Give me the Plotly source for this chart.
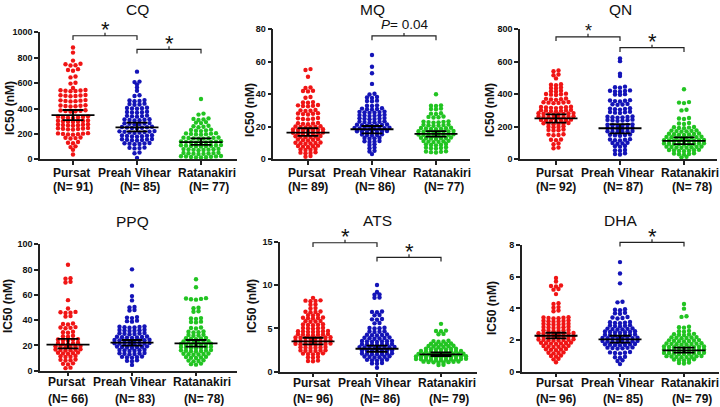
import plotly.graph_objects as go

W, H = 720, 407
FONT = "Liberation Sans, Arial, sans-serif"
COLORS = ["#f01515", "#1414b8", "#22c422"]
SITES = ["Pursat", "Preah Vihear", "Ratanakiri"]

# ---------------- data (IC50, nM) ----------------
cq_pursat = [880, 840, 777, 752, 749, 741, 738, 710, 703, 697, 652, 645, 603, 596, 562,
             546, 544, 542, 540, 538, 536, 506, 504, 502, 500, 498, 496,
             466, 464, 462, 460, 458, 456, 426, 424, 422, 420, 418, 416,
             386, 384, 382, 380, 378, 376, 338, 336, 334, 332, 330, 328, 326,
             306, 304, 302, 300, 298, 296, 294, 276, 274, 272, 270, 268, 266, 264,
             246, 244, 242, 240, 238, 236, 234, 206, 204, 202, 200, 198, 196, 194,
             172, 170, 167, 164, 136, 130, 126, 102, 96, 75, 38]
cq_preah = [690, 612, 608, 590, 565, 540, 504, 498, 466, 463, 460, 457, 438, 435, 432, 429,
            406, 404, 402, 400, 398, 374, 372, 370, 368, 366, 344, 342, 340, 338, 336,
            315, 313, 311, 309, 307, 305, 285, 283, 281, 279, 277, 275,
            256, 254, 252, 250, 248, 246, 244, 222, 220, 218, 216, 214, 212, 210, 208,
            190, 188, 186, 184, 182, 180, 178, 160, 158, 156, 154, 152, 150, 148,
            128, 126, 124, 122, 120, 118, 92, 90, 88, 86, 54, 48, 10]
cq_ratanakiri = [475, 360, 352, 322, 318, 314, 310, 293, 289, 285, 264, 260, 256, 252,
                 234, 231, 228, 225, 222, 206, 204, 202, 200, 198, 196, 194,
                 172, 170.5, 169, 167.5, 166, 164.5, 163, 161.5,
                 142, 140.5, 139, 137.5, 136, 134.5, 133, 131.5, 130,
                 112, 110.5, 109, 107.5, 106, 104.5, 103, 101.5, 100,
                 82, 80.5, 79, 77.5, 76, 74.5, 73, 71.5,
                 52, 50.5, 49, 47.5, 46, 44.5, 43, 41.5,
                 26, 24.5, 23, 21.5, 20, 18.5, 17, 15.5, 14]

mq_pursat = [55.5, 55.0, 50.8, 44.2, 43.9, 42.2, 42.0, 41.8, 38.3, 37.9, 35.2, 35.0, 34.8,
             33.4, 33.2, 33.0, 32.8, 32.6, 30.3, 30.1, 29.9, 29.7,
             28.4, 28.2, 28.0, 27.8, 27.6, 25.4, 25.2, 25.0, 24.8, 24.6,
             22.4, 22.2, 22.0, 21.8, 21.6, 20.35, 20.2, 20.05, 19.9, 19.75, 19.6,
             18.45, 18.3, 18.15, 18.0, 17.85, 17.7, 17.55,
             16.45, 16.3, 16.15, 16.0, 15.85, 15.7, 15.55,
             14.35, 14.2, 14.05, 13.9, 13.75, 13.6, 12.4, 12.2, 12.0, 11.8, 11.6,
             10.35, 10.2, 10.05, 9.9, 9.75, 9.6, 8.4, 8.2, 8.0, 7.8, 7.6,
             6.3, 6.1, 5.9, 5.7, 4.3, 4.1, 3.9, 3.7, 2.0, 1.6]
mq_preah = [64.2, 57.0, 53.0, 46.4, 40.3, 39.9, 38.3, 38.0, 37.8, 36.1, 35.9, 35.7, 33.2, 33.0, 32.8,
            31.4, 31.2, 31.0, 30.8, 30.6, 29.35, 29.2, 29.05, 28.9, 28.75, 28.6,
            27.35, 27.2, 27.05, 26.9, 26.75, 26.6, 25.35, 25.2, 25.05, 24.9, 24.75, 24.6,
            23.35, 23.2, 23.05, 22.9, 22.75, 22.6, 21.45, 21.3, 21.15, 21.0, 20.85, 20.7, 20.55,
            19.39, 19.27, 19.15, 19.03, 18.91, 18.79, 18.67, 18.55,
            17.45, 17.3, 17.15, 17.0, 16.85, 16.7, 16.55, 15.4, 15.2, 15.0, 14.8, 14.6,
            13.3, 13.1, 12.9, 12.7, 11.3, 11.1, 10.9, 10.7,
            9.2, 8.8, 7.2, 6.8, 5.2, 4.8, 3.2]
mq_ratanakiri = [40.0, 33.2, 33.0, 32.8, 31.2, 31.0, 30.8, 28.3, 28.1, 27.9, 26.3, 26.1, 25.9, 25.7,
                 23.35, 23.2, 23.05, 22.9, 22.75, 22.6, 21.35, 21.2, 21.05, 20.9, 20.75, 20.6,
                 19.45, 19.3, 19.15, 19.0, 18.85, 18.7, 18.55,
                 17.39, 17.27, 17.15, 17.03, 16.91, 16.79, 16.67, 16.55,
                 15.39, 15.27, 15.15, 15.03, 14.91, 14.79, 14.67, 14.55,
                 13.45, 13.3, 13.15, 13.0, 12.85, 12.7, 12.55,
                 11.35, 11.2, 11.05, 10.9, 10.75, 10.6, 9.4, 9.2, 9.0, 8.8, 8.6,
                 7.4, 7.2, 7.0, 6.8, 6.6, 5.0, 4.8, 4.6, 4.4, 4.2]

qn_pursat = [546, 542, 522, 517, 498, 462, 459, 456, 442, 439, 436, 422, 419, 416,
             404, 402, 400, 398, 396, 374, 372, 370, 368, 366,
             353, 351.5, 350, 348.5, 347, 345.5, 324, 322.5, 321, 319.5, 318, 316.5, 315,
             304, 302.5, 301, 299.5, 298, 296.5, 295,
             284.2, 283, 281.8, 280.6, 279.4, 278.2, 277, 275.8,
             264.2, 263, 261.8, 260.6, 259.4, 258.2, 257, 255.8,
             244, 242.5, 241, 239.5, 238, 236.5, 235, 223, 221.5, 220, 218.5, 217, 215.5,
             203, 201, 199, 197, 183, 181, 179, 177, 154, 152, 150, 148,
             122, 120, 118, 97, 93, 72, 68]
qn_preah = [621, 604, 527, 512, 447, 444, 441, 424, 422, 420, 418, 416, 401, 399, 397,
            364, 362, 360, 358, 356, 341, 339, 337, 335,
            314, 312, 310, 308, 306, 293, 291, 289, 287, 285,
            264, 262.5, 261, 259.5, 258, 256.5, 244, 242.5, 241, 239.5, 238, 236.5,
            214, 212.5, 211, 209.5, 208, 206.5, 194, 192.5, 191, 189.5, 188, 186.5,
            174, 172.5, 171, 169.5, 168, 166.5, 153, 151, 149, 147, 145,
            124, 122, 120, 118, 116, 102, 100, 98, 96, 82, 80, 78, 57, 55, 53, 37, 33, 30]
qn_ratanakiri = [431, 352, 349, 346, 305, 301, 254, 251, 248, 223, 220, 217,
                 199, 197, 195, 193, 191, 178, 176.5, 175, 173.5, 172, 170.5,
                 159, 157.5, 156, 154.5, 153, 151.5, 150,
                 139, 137.8, 136.6, 135.4, 134.2, 133, 131.8, 130.6,
                 119, 118, 117, 116, 115, 114, 113, 112, 111,
                 99, 98, 97, 96, 95, 94, 93, 92, 91,
                 79, 77.8, 76.6, 75.4, 74.2, 73, 71.8, 70.6,
                 59, 57.5, 56, 54.5, 53, 51.5, 50, 37, 35, 33, 31, 29, 15, 12]

ppq_pursat = [83.8, 73.2, 72.8, 69.8, 70.3, 55.8, 49.2, 45.6, 45.9, 46.2, 46.5, 42.8, 43.2,
              36.5, 36.9, 37.3, 33.6, 33.9, 34.2, 34.5, 30.0, 30.4, 30.8, 26.8, 27.2, 27.6,
              23.8, 24.1, 24.4, 24.7, 25.0, 21.0, 21.3, 21.6, 21.9, 22.2,
              18.6, 18.8, 19.0, 19.2, 19.4, 19.6, 16.0, 16.2, 16.4, 16.6, 16.8, 17.0,
              13.4, 13.65, 13.9, 14.15, 14.4, 10.8, 11.1, 11.4, 11.7,
              8.0, 8.3, 8.6, 8.9, 5.0, 5.4, 5.8, 2.0, 2.4]
ppq_preah = [80.2, 67.3, 59.0, 55.6, 50.0, 50.4, 47.6, 48.0, 41.6, 42.0, 42.4, 38.8, 39.2, 39.6,
             34.0, 34.2, 34.4, 34.6, 34.8, 35.0, 31.4, 31.6, 31.8, 32.0, 32.2, 32.4,
             28.8, 29.0, 29.2, 29.4, 29.6, 29.8, 26.0, 26.18, 26.36, 26.54, 26.72, 26.9, 27.08,
             23.4, 23.55, 23.7, 23.85, 24.0, 24.15, 24.3, 24.45,
             20.8, 20.95, 21.1, 21.25, 21.4, 21.55, 21.7, 21.85,
             18.2, 18.38, 18.56, 18.74, 18.92, 19.1, 19.28,
             15.6, 15.8, 16.0, 16.2, 16.4, 16.6, 13.0, 13.2, 13.4, 13.6, 13.8, 14.0,
             10.2, 10.45, 10.7, 10.95, 11.2, 7.4, 7.8, 8.2, 4.6]
ppq_ratanakiri = [72.3, 66.0, 56.2, 56.5, 56.8, 57.1, 57.4, 49.4, 49.8, 46.6, 47.0,
                  41.0, 41.3, 41.6, 38.2, 38.5, 38.8, 33.4, 33.8, 34.2,
                  30.2, 30.5, 30.8, 31.1, 27.6, 27.9, 28.2, 28.5, 25.0, 25.25, 25.5, 25.75, 26.0,
                  22.4, 22.6, 22.8, 23.0, 23.2, 23.4, 20.2, 20.38, 20.56, 20.74, 20.92, 21.1, 21.28,
                  17.8, 17.98, 18.16, 18.34, 18.52, 18.7, 18.88,
                  15.2, 15.38, 15.56, 15.74, 15.92, 16.1, 16.28,
                  12.6, 12.8, 13.0, 13.2, 13.4, 13.6, 10.0, 10.25, 10.5, 10.75, 11.0,
                  7.4, 7.7, 8.0, 8.3, 4.8, 5.2, 5.6]

ats_pursat = [8.52, 8.14, 8.17, 8.2, 8.23, 7.72, 7.76, 7.3, 7.34, 6.86, 6.89, 6.92, 6.95,
              6.5, 6.53, 6.56, 6.14, 6.17, 6.2, 6.23, 6.26, 5.76, 5.79, 5.82, 5.85,
              5.36, 5.39, 5.42, 5.45, 5.48, 4.96, 4.99, 5.02, 5.05, 5.08,
              4.58, 4.6, 4.62, 4.64, 4.66, 4.68, 4.7, 4.22, 4.24, 4.26, 4.28, 4.3, 4.32, 4.34,
              3.84, 3.86, 3.88, 3.9, 3.92, 3.94, 3.96, 3.98,
              3.46, 3.48, 3.5, 3.52, 3.54, 3.56, 3.58, 3.6,
              3.1, 3.12, 3.14, 3.16, 3.18, 3.2, 3.22, 3.24,
              2.74, 2.76, 2.78, 2.8, 2.82, 2.84, 2.38, 2.4, 2.42, 2.44, 2.46, 2.48,
              2.0, 2.03, 2.06, 2.09, 2.12, 1.62, 1.66, 1.7, 1.2, 1.24, 1.28]
ats_preah = [10.0, 9.2, 8.88, 8.92, 8.52, 8.56, 6.86, 6.9, 6.94, 6.5, 6.54, 6.0, 6.04, 6.08, 5.58, 5.62,
             4.98, 5.01, 5.04, 5.07, 4.58, 4.61, 4.64, 4.67, 4.18, 4.21, 4.24, 4.27, 4.3,
             3.8, 3.83, 3.86, 3.89, 3.92, 3.95, 3.44, 3.46, 3.48, 3.5, 3.52, 3.54, 3.56,
             3.08, 3.1, 3.12, 3.14, 3.16, 3.18, 3.2, 2.72, 2.74, 2.76, 2.78, 2.8, 2.82, 2.84, 2.86,
             2.36, 2.38, 2.4, 2.42, 2.44, 2.46, 2.48, 2.0, 2.02, 2.04, 2.06, 2.08, 2.1, 2.12,
             1.64, 1.67, 1.7, 1.73, 1.76, 1.79, 1.28, 1.31, 1.34, 1.37, 1.4,
             0.92, 0.96, 1.0, 0.45]
ats_ratanakiri = [5.52, 4.66, 4.7, 4.74, 4.32, 4.36, 3.45, 3.49, 3.53, 3.57,
                  3.14, 3.17, 3.2, 3.23, 3.26, 2.84, 2.87, 2.9, 2.93, 2.96, 2.99,
                  2.54, 2.56, 2.58, 2.6, 2.62, 2.64, 2.66,
                  2.24, 2.26, 2.28, 2.3, 2.32, 2.34, 2.36, 2.38, 2.4,
                  1.94, 1.955, 1.97, 1.985, 2.0, 2.015, 2.03, 2.045, 2.06, 2.075,
                  1.64, 1.654, 1.668, 1.682, 1.696, 1.71, 1.724, 1.738, 1.752, 1.766, 1.78,
                  1.34, 1.354, 1.368, 1.382, 1.396, 1.41, 1.424, 1.438, 1.452, 1.466, 1.48,
                  1.04, 1.06, 1.08, 1.1, 1.12, 1.14, 1.16, 1.18, 0.76, 0.8]

dha_pursat = [5.92, 5.7, 5.38, 5.41, 5.44, 5.18, 5.22, 4.9, 4.28, 4.32, 4.04, 4.08, 3.82, 3.86,
              3.36, 3.375, 3.39, 3.405, 3.42, 3.435, 3.16, 3.175, 3.19, 3.205, 3.22, 3.235,
              2.96, 2.975, 2.99, 3.005, 3.02, 3.035, 2.76, 2.775, 2.79, 2.805, 2.82, 2.835,
              2.56, 2.575, 2.59, 2.605, 2.62, 2.635,
              2.36, 2.372, 2.384, 2.396, 2.408, 2.42, 2.432, 2.444,
              2.16, 2.172, 2.184, 2.196, 2.208, 2.22, 2.232, 2.244,
              1.96, 1.972, 1.984, 1.996, 2.008, 2.02, 2.032, 2.044,
              1.76, 1.774, 1.788, 1.802, 1.816, 1.83, 1.844,
              1.56, 1.575, 1.59, 1.605, 1.62, 1.635, 1.36, 1.38, 1.4, 1.42, 1.44,
              1.16, 1.18, 1.2, 1.22, 0.96, 0.99, 1.02, 0.78, 0.82, 0.6]
dha_preah = [6.92, 6.2, 5.58, 4.38, 4.42, 3.88, 3.91, 3.94, 3.66, 3.69, 3.72,
             3.36, 3.39, 3.42, 3.45, 3.06, 3.08, 3.1, 3.12, 3.14, 2.86, 2.88, 2.9, 2.92, 2.94,
             2.66, 2.675, 2.69, 2.705, 2.72, 2.735, 2.46, 2.475, 2.49, 2.505, 2.52, 2.535, 2.55,
             2.26, 2.275, 2.29, 2.305, 2.32, 2.335, 2.35,
             2.06, 2.072, 2.084, 2.096, 2.108, 2.12, 2.132, 2.144,
             1.86, 1.872, 1.884, 1.896, 1.908, 1.92, 1.932, 1.944,
             1.66, 1.675, 1.69, 1.705, 1.72, 1.735, 1.75, 1.46, 1.475, 1.49, 1.505, 1.52, 1.535,
             1.16, 1.18, 1.2, 1.22, 1.24, 0.88, 0.91, 0.94, 0.68, 0.72, 0.48]
dha_ratanakiri = [4.27, 3.98, 3.46, 3.5, 2.78, 2.81, 2.84, 2.52, 2.55, 2.58,
                  2.31, 2.33, 2.35, 2.37, 2.39, 2.11, 2.125, 2.14, 2.155, 2.17, 2.185,
                  1.91, 1.924, 1.938, 1.952, 1.966, 1.98, 1.994,
                  1.71, 1.722, 1.734, 1.746, 1.758, 1.77, 1.782, 1.794,
                  1.51, 1.521, 1.532, 1.543, 1.554, 1.565, 1.576, 1.587, 1.598,
                  1.31, 1.321, 1.332, 1.343, 1.354, 1.365, 1.376, 1.387, 1.398,
                  1.11, 1.121, 1.132, 1.143, 1.154, 1.165, 1.176, 1.187, 1.198,
                  0.91, 0.922, 0.934, 0.946, 0.958, 0.97, 0.982, 0.994,
                  0.71, 0.73, 0.75, 0.77, 0.79, 0.52, 0.55, 0.58]

# sample sizes shown under the categories
cq_n, mq_n, qn_n = [91, 85, 77], [89, 86, 77], [92, 87, 78]
ppq_n, ats_n, dha_n = [66, 83, 78], [96, 86, 79], [96, 85, 79]

# central value and 95% CI bars
cq_center, cq_lo, cq_hi = [348, 252, 135], [308, 220, 113], [388, 288, 165]
mq_center, mq_lo, mq_hi = [16.4, 18.5, 15.6], [14.4, 16.0, 13.9], [19.1, 20.5, 17.4]
qn_center, qn_lo, qn_hi = [252, 191, 113], [226, 160, 94], [277, 217, 135]
ppq_center, ppq_lo, ppq_hi = [20.6, 22.2, 21.6], [17.7, 19.8, 19.0], [25.1, 24.3, 24.3]
ats_center, ats_lo, ats_hi = [3.5, 2.65, 2.0], [3.15, 2.3, 1.81], [3.92, 3.0, 2.23]
dha_center, dha_lo, dha_hi = [2.27, 2.04, 1.35], [2.1, 1.83, 1.2], [2.46, 2.27, 1.52]

# significance brackets: (from category, to category, height, label, label size)
cq_brackets = [(1, 2, 973, "*", 22), (2, 3, 866, "*", 22)]
mq_brackets = [(2, 3, 75.9, "<i>P</i>= 0.04", 13.5)]
qn_brackets = [(1, 2, 754, "*", 18), (2, 3, 687, "*", 22)]
ppq_brackets = []
ats_brackets = [(1, 2, 14.88, "*", 22), (2, 3, 13.2, "*", 22)]
dha_brackets = [(2, 3, 8.17, "*", 22)]

# ---------------- layout of the six panels (pixels) ----------------
panels = [
    dict(name="CQ", data=[cq_pursat, cq_preah, cq_ratanakiri], n=cq_n, c=cq_center, lo=cq_lo, hi=cq_hi,
         br=cq_brackets, ymax=1000, dtick=200, left=40, cat1=73, zero=159.3, top=32.3,
         title_y=10, ytit=(10, 108), lab_y=(173.3, 186.7)),
    dict(name="MQ", data=[mq_pursat, mq_preah, mq_ratanakiri], n=mq_n, c=mq_center, lo=mq_lo, hi=mq_hi,
         br=mq_brackets, ymax=80, dtick=20, left=273.3, cat1=308, zero=159.3, top=29.3,
         title_y=9.5, ytit=(250, 110), lab_y=(173.3, 186.7)),
    dict(name="QN", data=[qn_pursat, qn_preah, qn_ratanakiri], n=qn_n, c=qn_center, lo=qn_lo, hi=qn_hi,
         br=qn_brackets, ymax=800, dtick=200, left=520, cat1=556, zero=159.3, top=29.3,
         title_y=10, ytit=(490, 110), lab_y=(173.3, 186.7)),
    dict(name="PPQ", data=[ppq_pursat, ppq_preah, ppq_ratanakiri], n=ppq_n, c=ppq_center, lo=ppq_lo, hi=ppq_hi,
         br=ppq_brackets, ymax=100, dtick=20, left=40, cat1=68, zero=370.7, top=244.3,
         title_y=221, ytit=(8, 306), lab_y=(382, 398.7)),
    dict(name="ATS", data=[ats_pursat, ats_preah, ats_ratanakiri], n=ats_n, c=ats_center, lo=ats_lo, hi=ats_hi,
         br=ats_brackets, ymax=15, dtick=5, left=280, cat1=313, zero=371.7, top=241.7,
         title_y=220, ytit=(252, 306), lab_y=(382.5, 399.3)),
    dict(name="DHA", data=[dha_pursat, dha_preah, dha_ratanakiri], n=dha_n, c=dha_center, lo=dha_lo, hi=dha_hi,
         br=dha_brackets, ymax=8, dtick=2, left=521.7, cat1=556, zero=371.7, top=245,
         title_y=220, ytit=(492, 308), lab_y=(382.5, 399.3)),
]

CAT_PX = 64.0       # pixel distance between categories
AX_LEN = 197.0      # x-axis length in pixels
DOT_PX = 5.0        # horizontal spacing of swarm dots
LAB1_DX = [-2, -3, 6]   # horizontal nudges of the category label lines (px)
LAB2_DX = [0, 3, 8]


def swarm(vals, upx):
    thr = 2.2 * upx
    rows = []
    for v in sorted(vals):
        if rows and v - rows[-1][0] <= thr:
            rows[-1].append(v)
        else:
            rows.append([v])
    offs, ys = [], []
    for r in rows:
        n = len(r)
        if n % 2:
            order = [0] + [k for i in range(1, n // 2 + 1) for k in (-i, i)]
        else:
            order = [k for i in range(n // 2) for k in (-(i + 0.5), i + 0.5)]
        for v, o in zip(r, order):
            offs.append(o)
            ys.append(v)
    return offs, ys


fig = go.Figure()
shapes, annotations = [], []
for k, p in enumerate(panels, start=1):
    xa, ya = f"x{k}", f"y{k}"
    xkey, ykey = ("xaxis" if k == 1 else f"xaxis{k}"), ("yaxis" if k == 1 else f"yaxis{k}")
    plot_h = p["zero"] - p["top"]
    upx = p["ymax"] / plot_h
    x0 = 1 - (p["cat1"] - p["left"]) / CAT_PX
    x1 = x0 + AX_LEN / CAT_PX
    ydom = [1 - p["zero"] / H, 1 - p["top"] / H]

    def to_paper(v, ydom=ydom, ymax=p["ymax"]):
        return ydom[0] + (ydom[1] - ydom[0]) * v / ymax

    for g, vals in enumerate(p["data"]):
        offs, ys = swarm(vals, upx)
        xs = [g + 1 + o * DOT_PX / CAT_PX for o in offs]
        fig.add_trace(go.Scatter(x=xs, y=ys, mode="markers", xaxis=xa, yaxis=ya,
                                 marker=dict(size=4.4, color=COLORS[g], line=dict(width=0)),
                                 cliponaxis=False, showlegend=False, hoverinfo="y"))
    # central value with CI
    lx, ly = [], []
    for g in range(3):
        c = g + 1
        m, lo, hi = p["c"][g], p["lo"][g], p["hi"][g]
        wm, wc = 21.5 / CAT_PX, 10.5 / CAT_PX
        lx += [c - wm, c + wm, None, c, c, None, c - wc, c + wc, None, c - wc, c + wc, None]
        ly += [m, m, None, lo, hi, None, lo, lo, None, hi, hi, None]
    fig.add_trace(go.Scatter(x=lx, y=ly, mode="lines", xaxis=xa, yaxis=ya,
                             line=dict(color="black", width=1.8), cliponaxis=False,
                             showlegend=False, hoverinfo="skip"))

    # brackets (y in paper units so they are never clipped)
    drop, up = 4.3 / H, 3.0 / H
    for (a, b, yb, lab, fs) in p["br"]:
        mid = (a + b) / 2
        yp = to_paper(yb)
        path = (f"M {a},{yp - drop} L {a},{yp} L {b},{yp} L {b},{yp - drop} "
                f"M {mid},{yp} L {mid},{yp + up}")
        shapes.append(dict(type="path", path=path, xref=xa, yref="paper",
                           line=dict(color="#222", width=1.2)))
        if lab == "*":
            annotations.append(dict(text="*", x=mid, y=yp, xref=xa, yref="paper", showarrow=False,
                                    yanchor="middle", yshift=5 + fs * 0.05,
                                    font=dict(family=FONT, size=fs, color="#111")))
        else:
            annotations.append(dict(text=lab, x=mid, y=yp, xref=xa, yref="paper", showarrow=False,
                                    yanchor="middle", yshift=11.5,
                                    font=dict(family=FONT, size=fs, color="#111")))

    # category labels (two lines, drawn as text so they can be nudged like the original)
    for g in range(3):
        for line, txt, dx in ((0, SITES[g], LAB1_DX[g]), (1, f"(N= {p['n'][g]})", LAB2_DX[g])):
            annotations.append(dict(text=txt, x=g + 1, xref=xa, xshift=dx,
                                    y=1 - p["lab_y"][line] / H, yref="paper",
                                    showarrow=False, xanchor="center", yanchor="middle",
                                    font=dict(family=FONT, size=12, color="#111", weight="bold")))

    fig.layout[xkey] = dict(domain=[p["left"] / W, (p["left"] + AX_LEN) / W], anchor=ya,
                            range=[x0, x1], tickvals=[1, 2, 3], showticklabels=False,
                            automargin=False,
                            showline=True, linecolor="#222", linewidth=1.5,
                            ticks="outside", ticklen=4, tickwidth=1.5, tickcolor="#222",
                            showgrid=False, zeroline=False)
    fig.layout[ykey] = dict(domain=ydom, anchor=xa, automargin=False,
                            range=[0, p["ymax"]], tick0=0, dtick=p["dtick"],
                            showline=True, linecolor="#222", linewidth=1.5,
                            ticks="outside", ticklen=4, tickwidth=1.5, tickcolor="#222",
                            showgrid=False, zeroline=False,
                            tickfont=dict(family=FONT, size=9, color="#111", weight="bold"))
    # panel title
    annotations.append(dict(text=p["name"], x=2, xref=xa, y=1 - p["title_y"] / H, yref="paper",
                            showarrow=False, yanchor="middle",
                            font=dict(family=FONT, size=15.5, color="#111")))
    # y-axis title
    annotations.append(dict(text="IC50 (nM)", x=p["ytit"][0] / W, y=1 - p["ytit"][1] / H,
                            xref="paper", yref="paper", showarrow=False, textangle=-90,
                            xanchor="center", yanchor="middle",
                            font=dict(family=FONT, size=12, color="#111", weight="bold")))

fig.update_layout(width=W, height=H, margin=dict(l=0, r=0, t=0, b=0, autoexpand=False),
                  paper_bgcolor="white", plot_bgcolor="white",
                  shapes=shapes, annotations=annotations, showlegend=False)
fig.write_html("out.html", config={"displayModeBar": False},
               post_script="document.body.style.margin='0';")
